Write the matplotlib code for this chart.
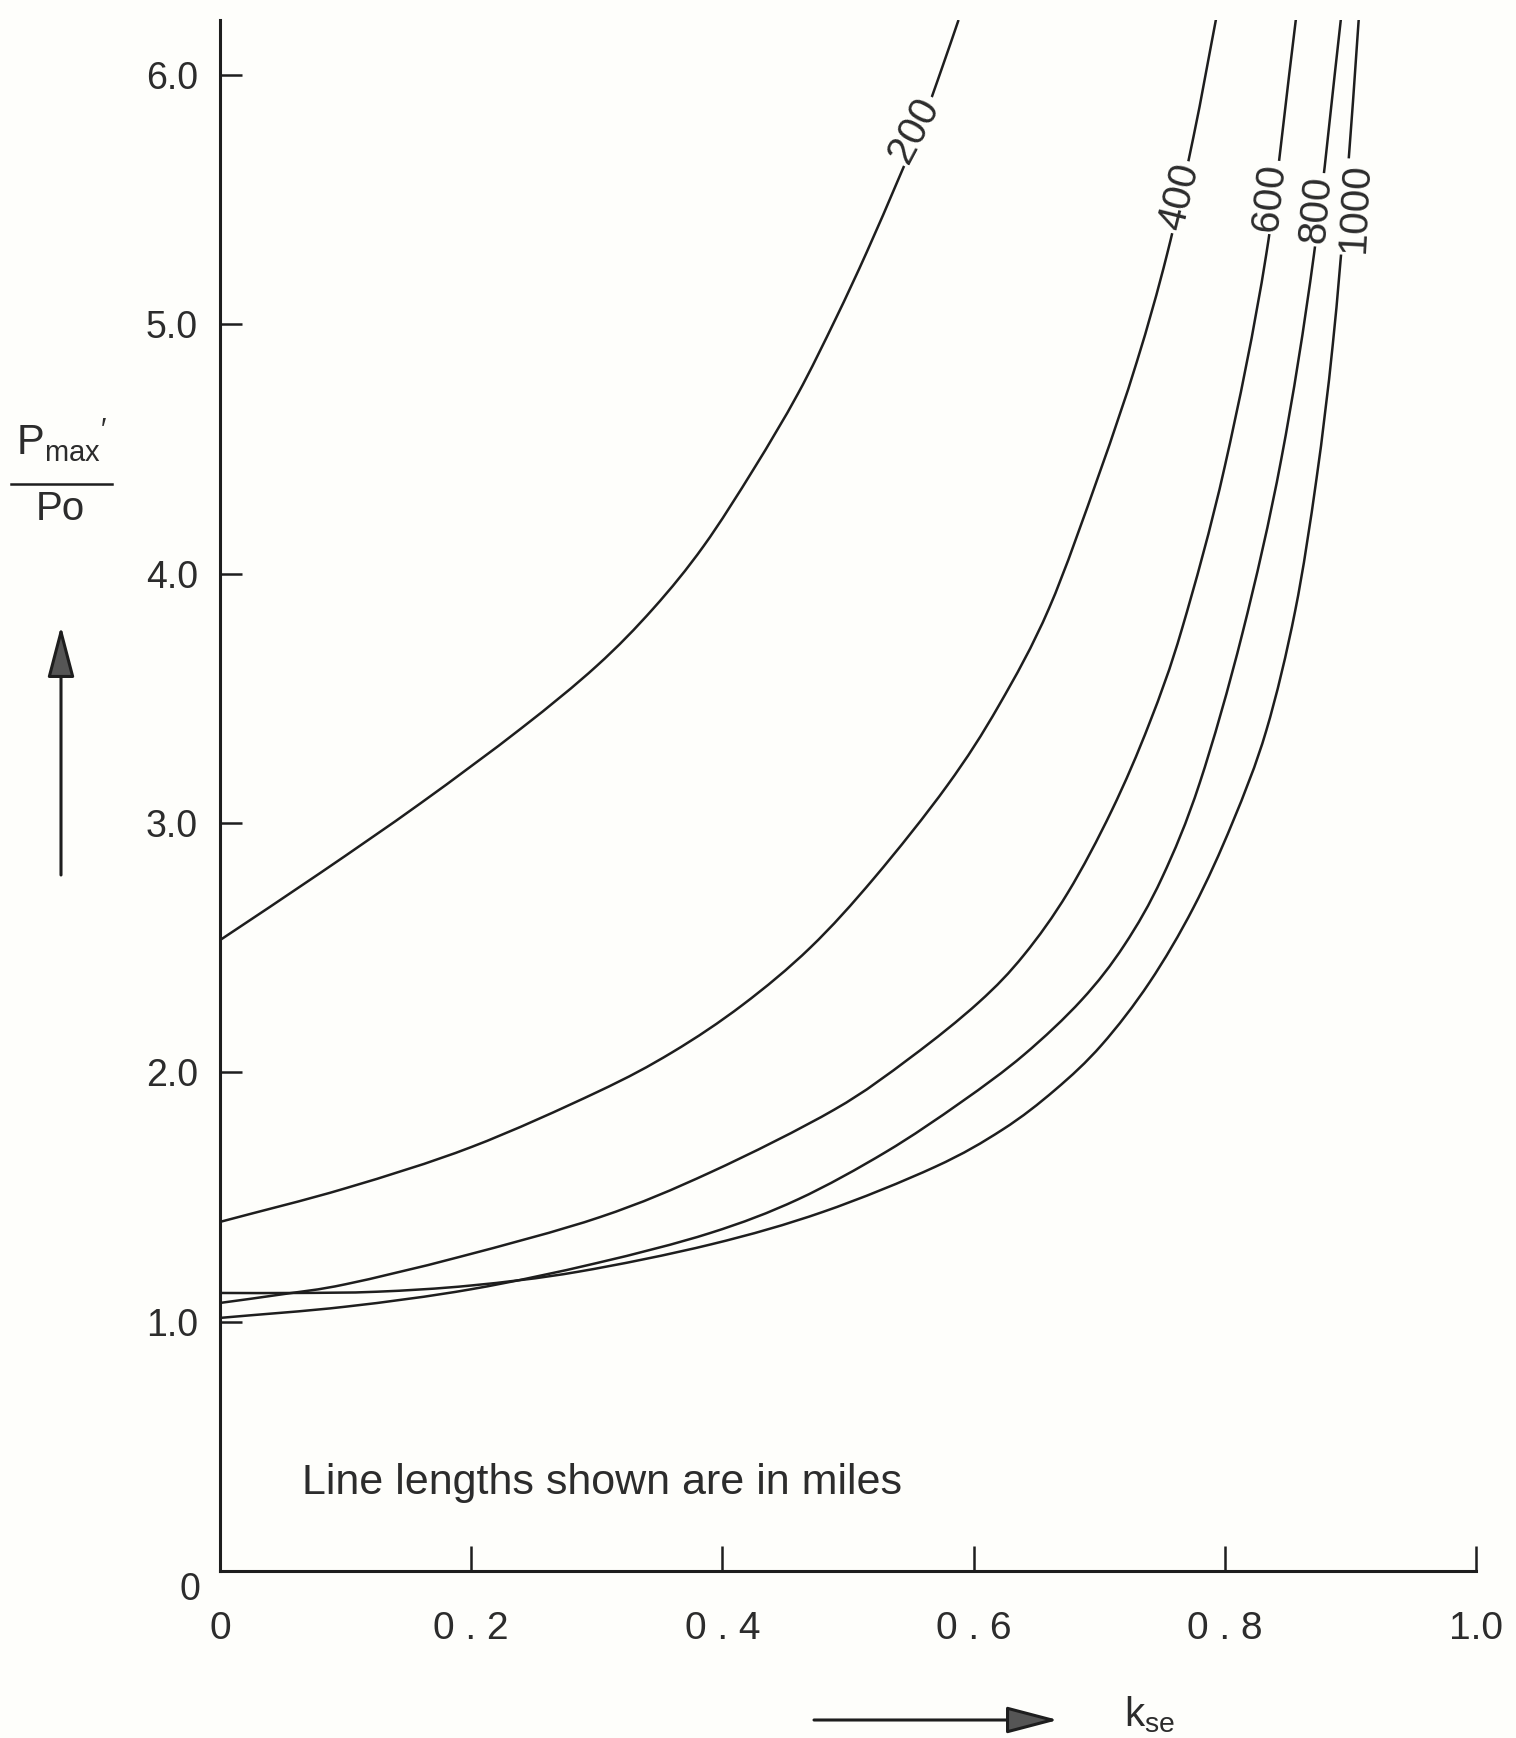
import matplotlib
matplotlib.use("Agg")
import numpy as np
import matplotlib.pyplot as plt
from matplotlib.lines import Line2D
from matplotlib.path import Path
from matplotlib.patches import PathPatch

plt.rcParams['font.family'] = ['Liberation Sans', 'DejaVu Sans']
plt.rcParams['mathtext.fontset'] = 'custom'
plt.rcParams['mathtext.rm'] = 'Liberation Sans'
plt.rcParams['mathtext.it'] = 'Liberation Sans:italic'

# ---- data: Pmax'/Po versus series compensation k_se, per line length (miles)
line_lengths = ["200", "400", "600", "800", "1000"]

k_200 = [0.0, 0.08, 0.16, 0.24, 0.30, 0.345, 0.385, 0.425, 0.46, 0.49, 0.515, 0.54, 0.56,
         0.575, 0.588]
p_200 = [2.53, 2.80, 3.08, 3.38, 3.63, 3.86, 4.11, 4.42, 4.72, 5.02, 5.29, 5.58, 5.82,
         6.03, 6.22]

k_400 = [0.0, 0.10, 0.20, 0.30, 0.36, 0.416, 0.47, 0.521, 0.579, 0.62, 0.66, 0.70, 0.73,
         0.754, 0.775, 0.794]
p_400 = [1.40, 1.535, 1.70, 1.92, 2.08, 2.27, 2.50, 2.78, 3.15, 3.47, 3.86, 4.40, 4.85,
         5.28, 5.75, 6.25]

k_600 = [0.0, 0.05, 0.10, 0.191, 0.303, 0.391, 0.489, 0.55, 0.604, 0.64, 0.675, 0.71, 0.74,
         0.766, 0.80, 0.833, 0.857]
p_600 = [1.075, 1.11, 1.15, 1.26, 1.42, 1.60, 1.85, 2.06, 2.28, 2.47, 2.72, 3.05, 3.40,
         3.78, 4.43, 5.28, 6.24]

k_800 = [0.0, 0.10, 0.20, 0.30, 0.39, 0.46, 0.53, 0.59, 0.64, 0.686, 0.72, 0.75, 0.78,
         0.814, 0.845, 0.871, 0.893]
p_800 = [1.015, 1.06, 1.13, 1.235, 1.355, 1.49, 1.68, 1.88, 2.07, 2.29, 2.51, 2.78, 3.16,
         3.76, 4.46, 5.28, 6.25]

k_1000 = [0.0, 0.06, 0.125, 0.2, 0.285, 0.391, 0.48, 0.569, 0.623, 0.665, 0.702, 0.74, 0.775,
          0.806, 0.833, 0.856, 0.873, 0.886, 0.897, 0.907]
p_1000 = [1.115, 1.115, 1.12, 1.145, 1.20, 1.31, 1.44, 1.62, 1.77, 1.93, 2.11, 2.36, 2.66,
          3.00, 3.37, 3.85, 4.38, 4.92, 5.55, 6.25]

x_ticks = [0.0, 0.2, 0.4, 0.6, 0.8, 1.0]
x_tick_labels = ["0", "0 . 2", "0 . 4", "0 . 6", "0 . 8", "1.0"]
y_ticks = [1.0, 2.0, 3.0, 4.0, 5.0, 6.0]
y_tick_labels = ["1.0", "2.0", "3.0", "4.0", "5.0", "6.0"]

# ---- styling
BG = '#fefefb'
INK = '#1e1e1e'
TXT = '#2c2c2c'
W, H = 1516, 1738


def smooth_path(xs, ys):
    """Cubic Bezier path passing through every (x, y) pair (Catmull-Rom tangents)."""
    pts = np.column_stack([xs, ys]).astype(float)
    ext = np.vstack([2 * pts[0] - pts[1], pts, 2 * pts[-1] - pts[-2]])
    verts = [pts[0]]
    codes = [Path.MOVETO]
    for i in range(1, len(ext) - 2):
        p0, p1, p2, p3 = ext[i - 1], ext[i], ext[i + 1], ext[i + 2]
        verts += [p1 + (p2 - p0) / 6.0, p2 - (p3 - p1) / 6.0, p2]
        codes += [Path.CURVE4] * 3
    return Path(verts, codes)


fig = plt.figure(figsize=(W / 100, H / 100), dpi=100, facecolor=BG)
ax = fig.add_axes([220 / W, 167 / H, 1256 / W, 1551 / H])
ax.set_facecolor(BG)

series = [(k_200, p_200), (k_400, p_400), (k_600, p_600), (k_800, p_800), (k_1000, p_1000)]
for k, p in series:
    ax.add_patch(PathPatch(smooth_path(k, p), fill=False, edgecolor=INK, lw=1.8,
                           joinstyle='round', capstyle='butt', zorder=2))

# curve labels sitting in gaps of the lines
label_pos = [(0.553, 5.78, 62), (0.764, 5.51, 76), (0.836, 5.51, 84),
             (0.873, 5.46, 85), (0.904, 5.47, 87)]
for name, (lx, ly, rot) in zip(line_lengths, label_pos):
    ax.text(lx, ly, name, rotation=rot, rotation_mode='anchor', ha='center', va='center',
            fontsize=29, color=TXT, zorder=4,
            bbox=dict(boxstyle='square,pad=0.08', fc=BG, ec='none'))

ax.set_xlim(0, 1.0)
ax.set_ylim(0, 6.22)
for side in ('top', 'right'):
    ax.spines[side].set_visible(False)
for side in ('left', 'bottom'):
    ax.spines[side].set_linewidth(2.2)
    ax.spines[side].set_color(INK)

ax.set_xticks(x_ticks)
ax.set_xticklabels(x_tick_labels)
ax.set_yticks(y_ticks)
ax.set_yticklabels(y_tick_labels)
ax.tick_params(axis='y', direction='in', length=16, width=1.8, pad=16,
               labelsize=27, color=INK, labelcolor=TXT)
ax.tick_params(axis='x', direction='in', length=18, width=1.8, pad=29,
               labelsize=28, color=INK, labelcolor=TXT)

# origin label on the value axis, set below the corner
ax.annotate("0", xy=(0, 0), xycoords='data', xytext=(-20, -19), textcoords='offset pixels',
            ha='right', va='center', fontsize=27, color=TXT, annotation_clip=False)

ax.text(0.065, 0.353, "Line lengths shown are in miles", ha='left', va='center',
        fontsize=31, color=TXT)

# vertical axis title as a fraction  Pmax' / Po
fig.text(62 / W, 1 - 455 / H, r"$\mathregular{{P_{max}}^{\prime}}$", ha='center',
         va='baseline', fontsize=30, color=TXT)
fig.text(60 / W, 1 - 520 / H, "Po", ha='center', va='baseline', fontsize=29, color=TXT)
fig.add_artist(Line2D([11 / W, 112 / W], [1 - 484 / H, 1 - 484 / H],
                      transform=fig.transFigure, color=INK, lw=1.8))

# horizontal axis title
fig.text(1124 / W, 1 - 1726 / H, r"$\mathregular{k_{se}}$", ha='left', va='baseline',
         fontsize=29, color=TXT)

# direction arrows
arrow_style = dict(arrowstyle='-|>,head_length=1.6,head_width=0.42', lw=2.2, color=INK,
                   fc='#555555', shrinkA=0, shrinkB=0, mutation_scale=20)
ax.annotate('', xy=(61, H - 626), xytext=(61, H - 875), xycoords='figure pixels',
            textcoords='figure pixels', arrowprops=arrow_style)
ax.annotate('', xy=(1058, H - 1720), xytext=(814, H - 1720), xycoords='figure pixels',
            textcoords='figure pixels', arrowprops=arrow_style)

fig.savefig("out.png", dpi=100, facecolor=BG)
